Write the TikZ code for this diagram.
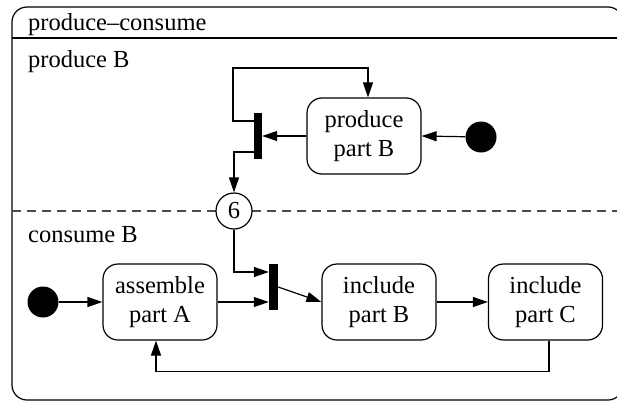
\documentclass[tikz,border=0pt]{standalone}
\usepackage{fontspec}
\setmainfont{Liberation Serif}
\usetikzlibrary{arrows.meta}
\begin{document}
\begin{tikzpicture}[x=1pt,y=-1pt,
  every node/.style={font=\fontsize{24.5}{29}\selectfont},
  line/.style={line width=1.2pt, draw=black},
  arr/.style={line, -{Triangle[length=15pt,width=10pt]}},
  activity/.style={draw, line width=1.2pt, rounded corners=15pt,
    minimum width=114pt, minimum height=76pt, align=center, inner sep=0pt},
  initial/.style={circle, fill=black, minimum size=31pt, inner sep=0pt},
  bar/.style={fill=black, inner sep=0pt},
  label/.style={anchor=base west, inner sep=0pt}]
\useasboundingbox (0,0) rectangle (617,401);

% outer state with its title compartment
\draw[line, rounded corners=15pt] (12,7) rectangle (623,400);
\draw[line] (12,38) -- (623,38);
\node[label] (title) at (28,31) {produce\textendash consume};

% region separator
\draw[line width=1.2pt, draw=black!70, dash pattern=on 9pt off 6pt] (12,211) -- (623,211);

\node[label] (regA) at (28,68) {produce B};
\node[label] (regB) at (28,242) {consume B};

% producer region
\node[activity] (prodB) at (364,136) {produce\\part B};
\node[initial] (init1) at (481,137) {};
\node[bar, minimum width=8pt, minimum height=46pt] (fork1) at (258,136) {};
\coordinate (loopTL) at (233,68);

% synchronisation state
\node[circle, draw, line width=1.2pt, fill=white, minimum size=36pt, inner sep=0pt] (sync) at (234,211) {6};

% consumer region
\node[initial] (init2) at (43,302) {};
\node[activity] (asmA) at (160,302) {assemble\\part A};
\node[bar, minimum width=9pt, minimum height=46pt] (fork2) at (273.5,287) {};
\node[activity] (incB) at (379,302) {include\\part B};
\node[activity] (incC) at (545.5,302) {include\\part C};

% transitions
\draw[arr] (init1) -- (prodB.east);
\draw[arr] (prodB.west) -- (fork1.east);
\draw[arr] ([yshift=15pt]fork1.west) -| (loopTL) -| ([xshift=4pt]prodB.north);
\draw[arr] ([yshift=-16pt]fork1.west) -| (sync.north);
\draw[arr] (sync.south) |- ([yshift=15pt]fork2.west);
\draw[arr] (init2) -- (asmA.west);
\draw[arr] (asmA.east) -- (asmA.east -| fork2.west);
\draw[arr] (fork2.east) -- (incB.west);
\draw[arr] (incB.east) -- (incC.west);
\draw[arr] ([xshift=3.5pt]incC.south) -- ++(0,31) -| ([xshift=-4pt]asmA.south);
\end{tikzpicture}
\end{document}
